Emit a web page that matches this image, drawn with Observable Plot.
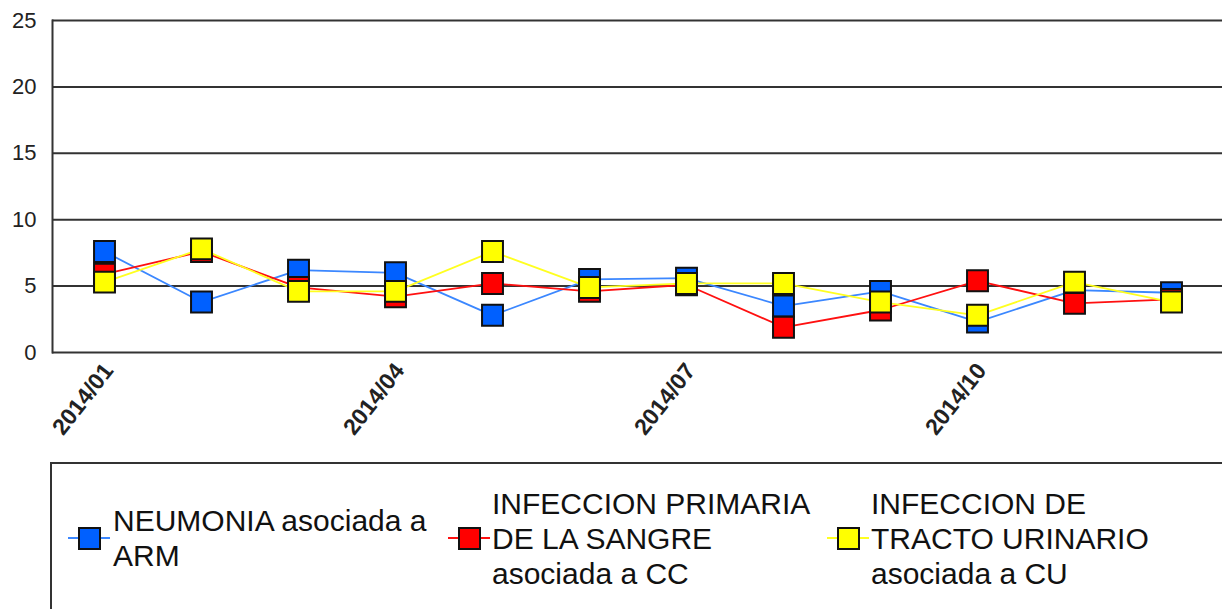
<!DOCTYPE html>
<html>
<head>
<meta charset="utf-8">
<script src="https://cdn.jsdelivr.net/npm/d3@7"></script>
<script src="https://cdn.jsdelivr.net/npm/@observablehq/plot@0.6"></script>
<style>
  html, body { margin: 0; padding: 0; background: #fff; overflow: hidden; }
  body { font-family: "Liberation Sans", Arial, sans-serif; color: #111; }
  #chart { position: relative; width: 1222px; height: 609px; overflow: hidden; }
  #chart svg { display: block; }
  #legend { position: absolute; left: 50px; top: 462px; width: 1200px; height: 220px;
            border: 2px solid #333; box-sizing: border-box; }
  .lg-line { position: absolute; height: 2px; }
  .lg-sq { position: absolute; width: 19px; height: 19px; border: 2px solid #111; }
  .lg-text { position: absolute; font-size: 30px; line-height: 35px; white-space: nowrap; color: #111; }
</style>
</head>
<body>
<div id="chart"></div>
<script>
// ---- data ----
const months = ["2014/01","2014/02","2014/03","2014/04","2014/05","2014/06",
                "2014/07","2014/08","2014/09","2014/10","2014/11","2014/12"];
const tickLabels = ["2014/01","2014/04","2014/07","2014/10"];
const yTicks = [0, 5, 10, 15, 20, 25];

const seriesNames = [
  "NEUMONIA asociada a ARM",
  "INFECCION PRIMARIA DE LA SANGRE asociada a CC",
  "INFECCION DE TRACTO URINARIO asociada a CU"
];
const legendLines = [
  ["NEUMONIA asociada a", "ARM"],
  ["INFECCION PRIMARIA", "DE LA SANGRE", "asociada a CC"],
  ["INFECCION DE", "TRACTO URINARIO", "asociada a CU"]
];

const neumonia = [7.6, 3.8, 6.2, 6.0, 2.8, 5.5, 5.6, 3.5, 4.6, 2.3, 4.7, 4.5];
const sangre   = [5.9, 7.6, 4.9, 4.2, 5.2, 4.6, 5.1, 1.9, 3.2, 5.4, 3.7, 4.0];
const urinario = [5.3, 7.8, 4.6, 4.6, 7.6, 4.9, 5.2, 5.2, 3.8, 2.8, 5.3, 3.8];

const lineColors = ["#3b87ff", "#ff1010", "#ffff20"];
const fillColors = ["#0060ff", "#ff0000", "#ffff00"];

// ---- build rows ----
const seriesValues = [neumonia, sangre, urinario];
const rowsBySeries = seriesValues.map((vals, k) =>
  vals.map((v, i) => ({ month: months[i], value: v, series: seriesNames[k] })));

const lineMarks = rowsBySeries.map((rows, k) =>
  Plot.line(rows, { x: "month", y: "value", stroke: lineColors[k], strokeWidth: 1.8 }));
const dotMarks = rowsBySeries.map((rows, k) =>
  Plot.dot(rows, { x: "month", y: "value", symbol: "square", r: 11.8,
                   fill: fillColors[k], stroke: "#111", strokeWidth: 2 }));

const plot = Plot.plot({
  width: 1222,
  height: 462,
  marginLeft: 52,
  marginRight: 0,
  marginTop: 20,
  marginBottom: 110,
  x: { type: "point", domain: months, padding: 0.5 },
  y: { domain: [0, 25] },
  style: { fontFamily: "'Liberation Sans', Arial, sans-serif", background: "#fff", color: "#222" },
  marks: [
    Plot.ruleY(yTicks, { stroke: "#333", strokeWidth: 2 }),
    Plot.frame({ anchor: "left", stroke: "#333", strokeWidth: 2 }),
    Plot.axisY({ ticks: yTicks, tickSize: 0, tickPadding: 16, fontSize: 22, label: null }),
    Plot.axisX({ ticks: tickLabels, tickSize: 0, tickPadding: 14, tickRotate: -52,
                 fontSize: 23, fontWeight: "bold", label: null, dx: 4 }),
    ...lineMarks,
    ...dotMarks
  ]
});

const chart = document.getElementById("chart");
chart.appendChild(plot);

// ---- legend ----
const legend = document.createElement("div");
legend.id = "legend";
chart.appendChild(legend);
const markerCenters = [37, 417, 796];
const textLefts = [61, 440, 819];
const centerY = 74;
legendLines.forEach((lines, k) => {
  const ln = document.createElement("div");
  ln.className = "lg-line";
  ln.style.left = (markerCenters[k] - 21) + "px";
  ln.style.width = "42px";
  ln.style.top = (centerY - 1) + "px";
  ln.style.background = lineColors[k];
  legend.appendChild(ln);
  const sq = document.createElement("div");
  sq.className = "lg-sq";
  sq.style.left = (markerCenters[k] - 11) + "px";
  sq.style.top = (centerY - 11) + "px";
  sq.style.background = fillColors[k];
  legend.appendChild(sq);
  const tx = document.createElement("div");
  tx.className = "lg-text";
  tx.style.left = textLefts[k] + "px";
  tx.style.top = (centerY - lines.length * 35 / 2) + "px";
  tx.innerHTML = lines.join("<br>");
  legend.appendChild(tx);
});
</script>
</body>
</html>
